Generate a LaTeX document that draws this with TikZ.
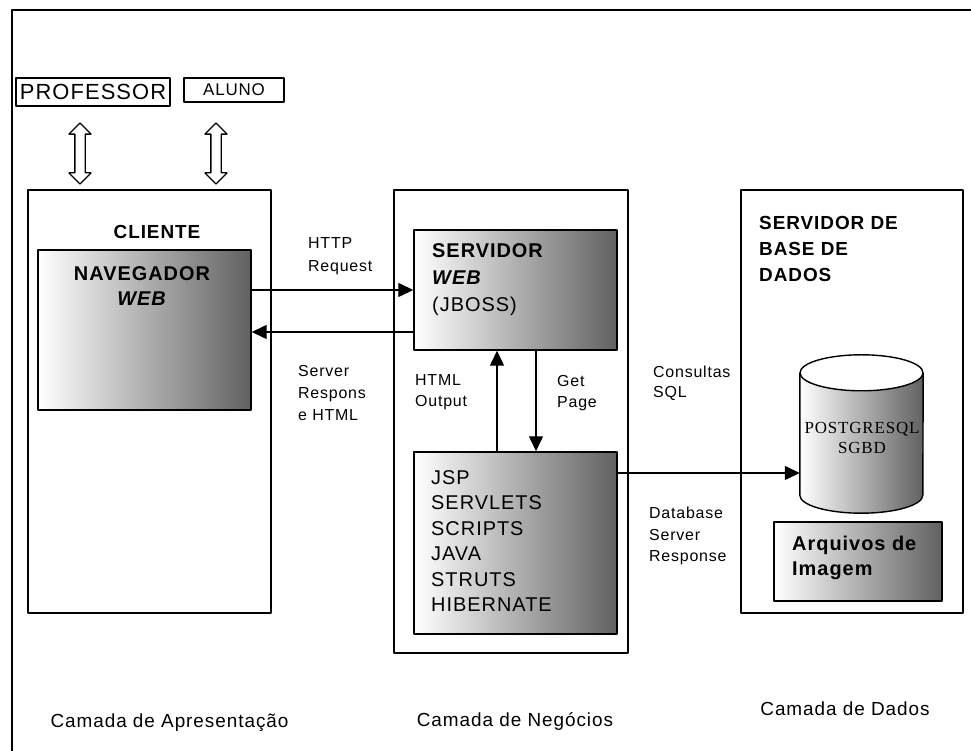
\documentclass[tikz,border=0pt]{standalone}
\usepackage{fontspec}
\setmainfont{Liberation Sans}[LetterSpace=5]
\newfontfamily\dbfont{Liberation Serif}[LetterSpace=5]
\usetikzlibrary{arrows.meta,shapes.arrows}

\begin{document}
\begin{tikzpicture}[>={Triangle[length=15bp,width=14bp]},line join=bevel,
  layerbox/.style={draw,line width=1.4bp,inner sep=0pt},
  shadebox/.style={draw,line width=1.4bp,inner sep=0pt,left color=white,right color=black!62},
  lbl/.style={inner sep=0pt,align=left,anchor=west},
  dblarr/.style={shape=double arrow,rotate=90,draw,line width=1.3bp,fill=white,inner xsep=0pt,inner ysep=4.5bp,double arrow head extend=6bp,minimum height=61bp},
  flow/.style={black,line width=1.3bp,->}]
\useasboundingbox (0bp,0bp) rectangle (971bp,751bp);
\draw [line width=1.6bp] (12bp,0bp) -- (12bp,741bp) -- (971bp,741bp);
%%
\node (prof) at (93bp,659bp) [layerbox,minimum width=154bp,minimum height=28bp,font=\fontsize{22}{22}\selectfont] {PROFESSOR};
  \node (aluno) at (234bp,661bp) [layerbox,minimum width=100bp,minimum height=24bp,font=\fontsize{17}{17}\selectfont] {ALUNO};
  \node (arr_prof) at (80bp,597.5bp) [dblarr] {};
  \node (arr_aluno) at (216bp,597.5bp) [dblarr] {};
%
\node (cliente) at (149.5bp,349.5bp) [layerbox,minimum width=243bp,minimum height=423bp] {};
  \node (cliente_lbl) at (157bp,519bp) [inner sep=0pt,font=\bfseries\fontsize{19}{19}\selectfont] {CLIENTE};
  \node (nav) at (144.5bp,421bp) [shadebox,minimum width=213bp,minimum height=160bp] {};
  \node (nav_lbl) at (142bp,464.5bp) [inner sep=0pt,align=center,font=\bfseries\fontsize{20}{25}\selectfont] {NAVEGADOR\\\textit{WEB}};
%
\node (negocios) at (511bp,329.5bp) [layerbox,minimum width=234bp,minimum height=463bp] {};
  \node (srv) at (515.5bp,461bp) [shadebox,minimum width=203bp,minimum height=120bp] {};
  \node (srv_lbl) at (432bp,471.5bp) [lbl,font=\fontsize{20}{27}\selectfont] {\textbf{SERVIDOR}\\\textbf{\textit{WEB}}\\(JBOSS)};
  \node (tech) at (515.5bp,208bp) [shadebox,minimum width=203bp,minimum height=182bp] {};
  \node (tech_lbl) at (431bp,210bp) [lbl,font=\fontsize{20}{25.6}\selectfont] {JSP\\SERVLETS\\SCRIPTS\\JAVA\\STRUTS\\HIBERNATE};
%
\node (dados) at (852bp,349.5bp) [layerbox,minimum width=222bp,minimum height=423bp] {};
  \node (dados_lbl) at (759bp,502bp) [lbl,font=\bfseries\fontsize{19}{26}\selectfont] {SERVIDOR DE\\BASE DE\\DADOS};
  \node (db) at (861.5bp,317bp) [inner sep=0pt,minimum width=123bp,minimum height=122bp] {};
  \shade [left color=white,right color=black!62] (db.north west) -- (db.south west) arc [start angle=180,end angle=360,x radius=61.5bp,y radius=18bp] -- (db.north east) -- cycle;
  \draw [line width=1.4bp] (db.north west) -- (db.south west) arc [start angle=180,end angle=360,x radius=61.5bp,y radius=18bp] -- (db.north east);
  \draw [line width=1.4bp,fill=white] (db.north) ellipse [x radius=61.5bp,y radius=18bp];
  \node (db_lbl) at (862bp,313bp) [inner sep=0pt,align=center,font=\dbfont\fontsize{17}{20}\selectfont] {POSTGRESQL\\SGBD};
  \node (arq) at (858bp,189.5bp) [shadebox,minimum width=168bp,minimum height=79bp] {};
  \node (arq_lbl) at (792bp,193.5bp) [lbl,font=\bfseries\fontsize{20}{25}\selectfont] {Arquivos de\\Imagem};
%
\coordinate (ret) at ([yshift=-42bp]srv.west);
  \coordinate (sql) at ([yshift=70bp]tech.east);
  \draw [flow] (nav.east |- srv.west) -- (srv.west);
  \draw [flow] (ret) -- (ret -| nav.east);
  \draw [flow] ([xshift=-18.5bp]tech.north) -- ([xshift=-18.5bp]srv.south);
  \draw [flow] ([xshift=20.5bp]srv.south) -- ([xshift=20.5bp]tech.north);
  \draw [flow] (sql) -- (sql -| db.west);
%
\node (http_lbl) at (308bp,494.5bp) [lbl,font=\fontsize{16}{23}\selectfont] {HTTP\\Request};
  \node (resp_lbl) at (298bp,358bp) [lbl,font=\fontsize{16}{22}\selectfont] {Server\\Respons\\e HTML};
  \node (out_lbl) at (415bp,358.5bp) [lbl,font=\fontsize{16}{21}\selectfont] {HTML\\Output};
  \node (get_lbl) at (557bp,357.5bp) [lbl,font=\fontsize{16}{21}\selectfont] {Get\\Page};
  \node (sql_lbl) at (653bp,368bp) [lbl,font=\fontsize{16}{20}\selectfont] {Consultas\\SQL};
  \node (dbresp_lbl) at (649bp,215bp) [lbl,font=\fontsize{16}{21.5}\selectfont] {Database\\Server\\Response};
%
\node (camada_ap) at (169.5bp,28bp) [inner sep=0pt,font=\fontsize{19}{19}\selectfont] {Camada de Apresentação};
  \node (camada_neg) at (515bp,30bp) [inner sep=0pt,font=\fontsize{19}{19}\selectfont] {Camada de Negócios};
  \node (camada_dados) at (845bp,42bp) [inner sep=0pt,font=\fontsize{19}{19}\selectfont] {Camada de Dados};
%
\end{tikzpicture}
\end{document}
